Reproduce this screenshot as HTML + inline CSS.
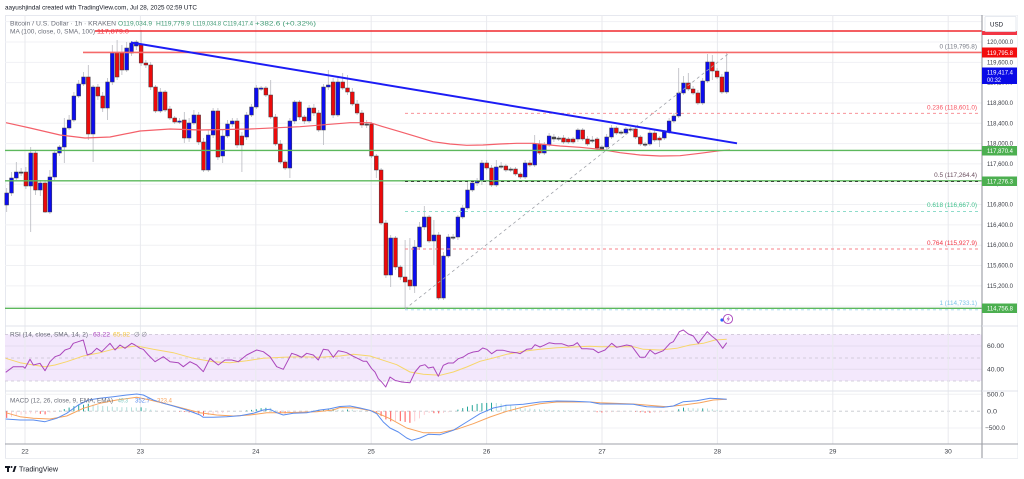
<!DOCTYPE html>
<html><head><meta charset="utf-8"><style>
html,body{margin:0;padding:0;background:#fff;width:1024px;height:479px;overflow:hidden}
svg{display:block;font-family:"Liberation Sans",Arial,sans-serif}
</style></head><body>
<svg id="s" width="1024" height="479" viewBox="0 0 1024 479" xmlns="http://www.w3.org/2000/svg">
<rect width="1024" height="479" fill="#fff"/>
<g id="bg"></g>
<g id="cd"></g>
<g id="ov"></g>
<g id="ax"></g>
<!-- header texts -->
<text x="5" y="9.6" font-size="6.8" fill="#131722" textLength="192" lengthAdjust="spacingAndGlyphs">aayushjindal created with TradingView.com, Jul 28, 2025 02:59 UTC</text>
<text x="10" y="25.6" font-size="6.4" fill="#6a6d78" textLength="106" lengthAdjust="spacingAndGlyphs">Bitcoin / U.S. Dollar · 1h · KRAKEN</text>
<text x="118" y="25.6" font-size="6.4" fill="#3f9a73" textLength="34" lengthAdjust="spacingAndGlyphs">O119,034.9</text>
<text x="156" y="25.6" font-size="6.4" fill="#3f9a73" textLength="34" lengthAdjust="spacingAndGlyphs">H119,779.9</text>
<text x="193" y="25.6" font-size="6.4" fill="#3f9a73" textLength="28" lengthAdjust="spacingAndGlyphs">L119,034.8</text>
<text x="223" y="25.6" font-size="6.4" fill="#3f9a73" textLength="30" lengthAdjust="spacingAndGlyphs">C119,417.4</text>
<text x="255" y="25.6" font-size="6.4" fill="#3f9a73" textLength="61" lengthAdjust="spacingAndGlyphs">+382.6 (+0.32%)</text>
<text x="10" y="33.6" font-size="6.4" fill="#6a6d78" textLength="85" lengthAdjust="spacingAndGlyphs">MA (100, close, 0, SMA, 100)</text>
<text x="97" y="33.6" font-size="6.4" fill="#f23645" textLength="32" lengthAdjust="spacingAndGlyphs">117,879.0</text>
<!-- fib labels -->
<g font-size="6.4" text-anchor="end">
<text x="977" y="48.3" fill="#787b86">0 (119,795.8)</text>
<text x="977" y="109.3" fill="#f7525f">0.236 (118,601.0)</text>
<text x="977" y="177" fill="#6b4e5e">0.5 (117,264.4)</text>
<text x="977" y="207" fill="#3fc08c">0.618 (116,667.0)</text>
<text x="977" y="245" fill="#f23645">0.764 (115,927.9)</text>
<text x="977" y="305" fill="#7cc4e8">1 (114,733.1)</text>
</g>
<!-- indicator legends -->
<text x="10" y="336.6" font-size="6.4" fill="#6a6d78" textLength="78" lengthAdjust="spacingAndGlyphs">RSI (14, close, SMA, 14, 2)</text>
<text x="93" y="336.6" font-size="6.4" fill="#ab47bc" textLength="17" lengthAdjust="spacingAndGlyphs">63.22</text>
<text x="113" y="336.6" font-size="6.4" fill="#f5c842" textLength="17" lengthAdjust="spacingAndGlyphs">65.82</text>
<text x="134" y="336.6" font-size="6.4" fill="#787b86">∅ ∅</text>
<text x="10" y="402.3" font-size="6.4" fill="#6a6d78" textLength="103" lengthAdjust="spacingAndGlyphs">MACD (12, 26, close, 9, EMA, EMA)</text>
<text x="118" y="402.3" font-size="6.4" fill="#80cbc4" textLength="10" lengthAdjust="spacingAndGlyphs">49.3</text>
<text x="135" y="402.3" font-size="6.4" fill="#5b8def" textLength="15" lengthAdjust="spacingAndGlyphs">352.7</text>
<text x="157" y="402.3" font-size="6.4" fill="#f7a35c" textLength="15" lengthAdjust="spacingAndGlyphs">323.4</text>
<!-- price axis labels -->
<g font-size="6.2" fill="#3a3d45">
<text x="987" y="44" textLength="26" lengthAdjust="spacingAndGlyphs">120,000.0</text>
<text x="987" y="64.3" textLength="26" lengthAdjust="spacingAndGlyphs">119,600.0</text>
<text x="987" y="84.6" textLength="26" lengthAdjust="spacingAndGlyphs">119,200.0</text>
<text x="987" y="105" textLength="26" lengthAdjust="spacingAndGlyphs">118,800.0</text>
<text x="987" y="125.3" textLength="26" lengthAdjust="spacingAndGlyphs">118,400.0</text>
<text x="987" y="145.6" textLength="26" lengthAdjust="spacingAndGlyphs">118,000.0</text>
<text x="987" y="166" textLength="26" lengthAdjust="spacingAndGlyphs">117,600.0</text>
<text x="987" y="186.2" textLength="26" lengthAdjust="spacingAndGlyphs">117,200.0</text>
<text x="987" y="206.6" textLength="26" lengthAdjust="spacingAndGlyphs">116,800.0</text>
<text x="987" y="226.9" textLength="26" lengthAdjust="spacingAndGlyphs">116,400.0</text>
<text x="987" y="247.2" textLength="26" lengthAdjust="spacingAndGlyphs">116,000.0</text>
<text x="987" y="267.5" textLength="26" lengthAdjust="spacingAndGlyphs">115,600.0</text>
<text x="987" y="287.8" textLength="26" lengthAdjust="spacingAndGlyphs">115,200.0</text>
<text x="987" y="308" textLength="26" lengthAdjust="spacingAndGlyphs">114,800.0</text>
<text x="987" y="348.2" textLength="17" lengthAdjust="spacingAndGlyphs">60.00</text>
<text x="987" y="371.4" textLength="17" lengthAdjust="spacingAndGlyphs">40.00</text>
<text x="987" y="396.3" textLength="17" lengthAdjust="spacingAndGlyphs">500.0</text>
<text x="987" y="413.3" textLength="10" lengthAdjust="spacingAndGlyphs">0.0</text>
<text x="985" y="430.2" textLength="20" lengthAdjust="spacingAndGlyphs">−500.0</text>
</g>
<!-- colored price labels -->
<rect x="982" y="31" width="35" height="4" fill="#f23645"/>
<rect x="985" y="16.5" width="31" height="15" fill="#fff" stroke="#e0e3eb" stroke-width="0.8" rx="1"/>
<text x="990" y="26.5" font-size="6.2" fill="#131722">USD</text>
<rect x="982" y="47.5" width="35" height="10" fill="#f20d0d"/>
<text x="987" y="54.8" font-size="6.2" fill="#fff" textLength="26" lengthAdjust="spacingAndGlyphs">119,795.8</text>
<rect x="982" y="67.5" width="35" height="16.5" fill="#0a0ae6"/>
<text x="987" y="74.4" font-size="6.2" fill="#fff" textLength="26" lengthAdjust="spacingAndGlyphs">119,417.4</text>
<text x="987" y="81.8" font-size="6.2" fill="#fff" textLength="14" lengthAdjust="spacingAndGlyphs">00:32</text>
<rect x="982" y="146" width="35" height="9.5" fill="#4caf50"/>
<text x="987" y="153" font-size="6.2" fill="#fff" textLength="26" lengthAdjust="spacingAndGlyphs">117,870.4</text>
<rect x="982" y="176.5" width="35" height="9.5" fill="#4caf50"/>
<text x="987" y="183.5" font-size="6.2" fill="#fff" textLength="26" lengthAdjust="spacingAndGlyphs">117,276.3</text>
<rect x="982" y="303.5" width="35" height="9.5" fill="#4caf50"/>
<text x="987" y="310.5" font-size="6.2" fill="#fff" textLength="26" lengthAdjust="spacingAndGlyphs">114,756.8</text>
<!-- time axis -->
<g font-size="6.6" fill="#3a3d45" text-anchor="middle">
<text x="25" y="453.3">22</text>
<text x="140.4" y="453.3">23</text>
<text x="255.8" y="453.3">24</text>
<text x="371.2" y="453.3">25</text>
<text x="486.6" y="453.3">26</text>
<text x="602" y="453.3">27</text>
<text x="717.4" y="453.3">28</text>
<text x="832.8" y="453.3">29</text>
<text x="948.2" y="453.3">30</text>
</g>
<!-- lightning icon -->
<circle cx="722" cy="320" r="1.6" fill="#2962ff"/>
<circle cx="728" cy="319" r="4.6" fill="#fff" stroke="#ab47bc" stroke-width="0.9"/>
<path d="M729.2,315.8 L726.6,319.4 L728.4,319.4 L727,322.4 L730,318.5 L728.2,318.5 Z" fill="#ab47bc"/>
<!-- TradingView logo -->
<g fill="#131722">
<rect x="5" y="466" width="5" height="2"/>
<rect x="7" y="466" width="2" height="6"/>
<circle cx="11.5" cy="467" r="1"/>
<path d="M12.5,472 L14.5,466 L16.5,466 L14.5,472 Z"/>
</g>
<text x="19" y="471.5" font-size="7" fill="#131722" textLength="39" lengthAdjust="spacingAndGlyphs">TradingView</text>
</svg>
<script>
(function(){
var NS="http://www.w3.org/2000/svg";
function el(parent,tag,attrs){var e=document.createElementNS(NS,tag);for(var k in attrs)e.setAttribute(k,attrs[k]);parent.appendChild(e);return e;}
var bg=document.getElementById('bg'),cd=document.getElementById('cd'),ov=document.getElementById('ov'),ax=document.getElementById('ax');
function py(p){return 42+(120000-p)*0.0508;}
// outer frame
el(bg,'rect',{x:5.5,y:15.5,width:1012,height:443,fill:'none',stroke:'#e0e3eb','stroke-width':0.8});
// horizontal grid main
for(var p=120400;p>=114800;p-=400){var y=py(p);el(bg,'line',{x1:5,x2:982,y1:y,y2:y,stroke:'#f0f1f4','stroke-width':1});}
// RSI band
el(bg,'rect',{x:5,y:334.4,width:977,height:46.6,fill:'#f3e8fc'});
[346,369.3].forEach(function(y){el(bg,'line',{x1:5,x2:982,y1:y,y2:y,stroke:'#e6dcef','stroke-width':1});});
[334.4,358,381].forEach(function(y){el(bg,'line',{x1:5,x2:982,y1:y,y2:y,stroke:'#c9c2d2','stroke-width':0.8,'stroke-dasharray':'3,3'});});
// MACD grid
[394.3,428].forEach(function(y){el(bg,'line',{x1:5,x2:982,y1:y,y2:y,stroke:'#f0f1f4','stroke-width':1});});
el(bg,'line',{x1:5,x2:982,y1:411.2,y2:411.2,stroke:'#c4c6cc','stroke-width':0.8,'stroke-dasharray':'3,3'});
// vertical day grid
for(var k=0;k<9;k++){var x=25+k*115.4;el(bg,'line',{x1:x,x2:x,y1:15,y2:444,stroke:'#e9eaee','stroke-width':1});}
// pane separators
el(bg,'line',{x1:5,x2:1018,y1:326,y2:326,stroke:'#e0e3eb','stroke-width':1});
el(bg,'line',{x1:5,x2:1018,y1:391,y2:391,stroke:'#e0e3eb','stroke-width':1});

// candles
var D="B 193 205 188 212|B 178 193 172 196|B 172 178 162 180|D 172 173 168 176|R 172 186 167 189|B 153 186 147 232|R 153 190 150 195|B 183 190 180 196|R 183 212 180 213|B 177 212 170 214|B 153 177 150 180|B 147 153 145 156|B 128 147 118 163|B 120 128 115 130|B 96 120 92 122|B 84 96 80 98|B 77 84 72 86|R 77 134 65 140|B 87 134 85 162|R 87 96 84 100|R 96 108 92 112|B 82 108 78 120|B 53 82 45 85|R 53 77 40 80|R 53 70 45 75|B 48 70 42 72|B 43 53 41 56|B 42 46 40 50|R 45 63 30 66|R 63 65 60 68|R 65 87 62 90|R 87 111 85 113|B 92 111 88 113|R 92 110 90 112|R 109 118 106 120|R 118 122 116 124|B 121 122 118 124|R 120 138 112 143|B 123 138 118 142|B 115 123 110 125|R 115 142 112 145|R 142 170 138 172|B 135 170 130 172|B 111 135 108 138|R 111 157 108 160|B 136 156 130 163|B 124 136 120 138|B 121 124 118 127|R 121 145 118 148|R 136 145 132 172|B 115 137 112 140|B 107 115 104 117|B 88 107 85 109|B 88 89 86 91|R 88 95 86 97|R 95 117 80 119|R 117 144 114 146|R 144 162 140 164|R 162 168 160 170|B 121 168 118 178|B 102 121 100 124|R 102 117 100 120|R 117 121 115 124|B 108 121 105 123|R 108 113 104 116|R 113 130 110 132|B 87 130 84 145|B 85 87 70 90|R 82 115 78 118|B 82 115 78 117|R 82 88 73 90|R 88 92 75 95|R 92 104 88 106|R 104 113 100 115|R 113 125 110 128|D 124 125 120 128|R 124 156 122 158|R 156 170 154 178|R 170 223 168 225|R 223 275 220 278|B 238 275 235 287|R 238 267 236 270|R 267 277 265 280|R 277 282 240 309|R 280 286 238 290|B 247 286 240 293|B 227 247 222 250|B 217 227 206 230|R 217 241 215 243|B 235 241 220 265|R 235 298 232 300|B 256 298 252 300|B 237 256 234 258|D 237 238 234 240|B 217 237 215 240|B 208 217 205 219|B 190 208 180 210|B 183 190 180 192|B 181 183 178 186|B 163 181 160 185|R 163 168 160 170|R 168 185 165 187|B 167 185 160 187|D 166 167 162 169|R 166 170 164 172|D 169 170 167 172|R 169 174 167 176|R 174 177 172 179|B 163 177 160 179|R 163 165 160 167|B 144 165 135 167|R 144 153 140 155|B 145 153 142 155|B 136 145 133 147|D 137 139 134 142|D 138 139 136 141|R 138 142 135 144|R 139 142 137 144|R 139 142 137 144|B 130 139 128 142|R 130 139 128 141|R 139 144 136 146|D 140 141 136 143|R 139 148 137 150|D 147 149 145 151|B 137 147 134 150|B 128 137 125 139|R 128 133 126 135|D 132 133 130 135|B 129 133 127 135|D 129 130 127 132|R 129 137 127 139|R 137 144 135 146|D 144 145 142 147|B 133 144 130 146|R 133 140 130 142|R 138 140 136 147|B 132 138 130 140|B 121 132 118 134|B 116 121 113 123|B 93 116 68 118|B 83 93 76 95|R 83 89 73 91|R 89 93 86 95|R 93 103 90 105|B 81 103 78 105|B 62 81 54 83|R 62 71 55 80|R 71 77 68 79|R 77 92 74 94|B 72 92 53 94".split('|');
D.forEach(function(s,i){
  var a=s.split(' '),t=a[0],top=+a[1],bot=+a[2],wt=+a[3],wb=+a[4];
  var x=6.7+i*4.8;
  el(cd,'line',{x1:x,x2:x,y1:wt,y2:wb,stroke:'#b8bac0','stroke-width':0.8});
  var h=Math.max(1.2,bot-top);
  var f=t==='B'?'#0c0cef':(t==='R'?'#ec0a0a':'#4a4a4a');
  el(cd,'rect',{x:x-1.9,y:top,width:3.8,height:h,fill:f,stroke:'#3c3c46','stroke-width':0.5});
});
function pts(s){return s.trim().split(/\s+/).map(function(q){var v=q.split(',');return [+v[0],+v[1]];});}
function pl(g,arr,col,w,extra){var a={points:arr.map(function(p){return p[0]+','+p[1];}).join(' '),fill:'none',stroke:col,'stroke-width':w,'stroke-linejoin':'round'};for(var k in extra)a[k]=extra[k];return el(g,'polyline',a);}
// MA
var MA=pts("6,122.7 30,128 60,135 85,138 110,137 140,131 170,129 200,130 250,129 300,126.7 350,122.7 370,122.7 383,126.7 400,131.7 416.7,136.7 433,141.7 450,144 466.7,145.3 483,145 500,144 516.7,143.3 533,143.3 545,144.5 560,146 580,147.3 600,149.3 620,152.7 640,155 660,156 680,155.7 700,153.3 720,150.7 730,150");
pl(ov,MA,'#f4606a',1.2,{});
// horizontal lines
el(ov,'line',{x1:95,x2:982,y1:31,y2:31,stroke:'#f0282d','stroke-width':1.6});
el(ov,'line',{x1:83,x2:982,y1:52.4,y2:52.4,stroke:'#f56a6a','stroke-width':1.6});
el(ov,'line',{x1:5,x2:982,y1:150.4,y2:150.4,stroke:'#5cb85c','stroke-width':1.4});
el(ov,'line',{x1:5,x2:982,y1:180.8,y2:180.8,stroke:'#5cb85c','stroke-width':1.4});
el(ov,'line',{x1:5,x2:982,y1:308.3,y2:308.3,stroke:'#5cb85c','stroke-width':1.4});
// fib levels
[[113.3,'#f7828a'],[181.6,'#333'],[211.4,'#7fd8c2'],[249,'#f7828a'],[309.8,'#9fd6ee']].forEach(function(f){
  el(ov,'line',{x1:405,x2:978,y1:f[0],y2:f[0],stroke:f[1],'stroke-width':0.9,'stroke-dasharray':'3,3'});
});
el(ov,'line',{x1:405,x2:730,y1:309,y2:52.5,stroke:'#a0a3aa','stroke-width':0.8,'stroke-dasharray':'3,3'});
// trendline
el(ov,'line',{x1:131,x2:737,y1:42.5,y2:143.3,stroke:'#1c1cf5','stroke-width':2});

// RSI
var RSI=pts("5.7,372.3 13.3,366.7 23.3,366.7 25,368.3 30,359.3 33.3,365 40,363.3 45,370.7 50,361.7 55,356.7 60,355 65,350 70,348.3 73.3,343.3 78.3,341.7 83.3,340 87.3,355 91.7,353.3 96.7,348.3 101.7,351.7 110,343.3 115,350 120,345 125,348.3 131.7,343.3 135,345 140,348.3 143.3,349.3 148.3,355 155,361.7 163.3,356.7 170,361.7 178.3,362.7 183.3,366.7 190,361.7 196.7,365 203.3,371.7 210,358.3 218.3,365 225,360 231.7,360 238.3,361.7 246.7,355 256.7,350 263.3,351.7 270,356.7 276.7,366.7 283.3,369.3 291.7,353.3 296.7,355 301.7,357.3 306.7,353.3 313.3,355 318.3,360 323.3,349.3 328.3,350 333.3,357.3 338.3,350.7 343.3,351.7 346.7,352.7 353.3,356.3 358.3,358.7 363.3,361.3 366.7,361.3 371.7,368.7 375,372 378.3,378.7 381.7,382 385.7,387 390,377 395,380.3 401.7,382 410,382.7 415,372 420,366 425,364.7 428.3,368 433.3,367 438.3,376.3 443.3,365.3 448.3,363 453.3,363 458.3,358.7 463.3,357 468.3,353.7 473.3,352 478.3,351.3 482.7,348 486.7,349.3 491.7,353.7 496.7,350.3 503.3,350.3 510,352 516.7,352.7 520,353.7 526.7,349.3 531.7,348.7 535,344.7 540,347 544,345.3 549.3,342.7 555,343.7 561.7,343.7 568.3,346 573.3,345.3 577.3,342.7 581.7,348.7 586.7,348.7 593.3,349.3 598.3,352.7 605,350 611.7,343.3 616.7,347.3 626.7,345 631.7,346 640,357.3 645,357.3 650,350 655,354 663.3,350.7 670,343.3 673.3,341.7 679.3,331.7 683.3,330 688.3,334 693.3,336 698.3,343.3 707.3,331.7 711.7,336 716.7,340 722.7,348.3 726.7,342.7");
var RSIY=pts("5.7,358.3 20,362.7 33.3,365 45,366.7 55,365 66.7,361.7 83.3,356 100,352.7 116.7,348.3 136.7,346 153.3,349.3 173.3,352.7 193.3,358.3 213.3,361.7 230,362.7 246.7,360.7 263.3,358.3 283.3,357.3 300,356.7 320,357.3 340,356 353.3,354.3 370,356 383.3,360.3 396.7,364.7 410,372 423.3,374.3 440,375.3 453.3,372 466.7,367 480,361.3 493.3,358 506.7,354.3 523.3,351.3 540,349.3 556.7,347.7 573.3,347 590,346.3 600,346.7 616.7,346.7 633.3,346.7 643.3,349.3 660,350 676.7,348.3 690,345 703.3,343.3 715,340 726.7,339.3");
pl(ov,RSIY,'#f7d66a',1,{});
pl(ov,RSI,'#ab47bc',1,{});
// MACD
var MB=pts("5.7,419 20,420 33.3,420 45,421.7 56.7,418.3 66.7,413.3 78.3,405 88.3,400 100,398.3 113.3,396.7 126.7,395 136.7,394 143.3,395 153.3,400 163.3,403.3 173.3,406 186.7,410 200,415 203.3,417.3 213.3,417.3 226.7,416.7 240,415.7 253.3,413.3 263.3,410 270,409.3 276.7,412.7 283.3,415 293.3,413.3 306.7,412.7 320,410 330,408.7 340,406.5 350,406 360,408 370,410.3 376.7,413.7 383.3,422 390,428 398.3,432 406.7,438 411.7,440.3 420,438 428.3,434.3 440,434.7 453.3,430.3 466.7,422 480,413.7 493.3,408 506.7,405.3 523.3,404.3 540,402 556.7,401 573.3,401.3 590,402 600,404 616.7,404 633.3,404.3 646.7,406.7 663.3,407.3 673.3,406 683.3,401.7 696.7,400.7 710,398.3 720,398.7 726.7,399.3");
var MO=pts("5.7,412.7 20,416.7 33.3,418.3 50,419 66.7,416 83.3,408.3 100,403.3 116.7,400 136.7,397.3 150,400 166.7,404 183.3,408.3 200,412.7 216.7,415 233.3,416 250,415 266.7,412.7 283.3,412.7 300,412.3 316.7,411.7 333.3,410 340,407.5 356.7,408 373.3,411.3 390,418.7 406.7,428 423.3,432.7 440,432.7 456.7,429.3 473.3,423.7 490,417 506.7,411.3 523.3,407 540,403.7 556.7,402 573.3,402 590,402 600,402.7 633.3,404 666.7,406.7 683.3,405 700,402.7 713.3,400 726.7,399.3");
function interp(a,x){if(x<=a[0][0])return a[0][1];for(var i=1;i<a.length;i++){if(x<=a[i][0]){var t=(x-a[i-1][0])/(a[i][0]-a[i-1][0]);return a[i-1][1]+t*(a[i][1]-a[i-1][1]);}}return a[a.length-1][1];}
var prev=0;
for(var i=0;i<151;i++){
  var x=6.7+i*4.8;var h=(interp(MO,x)-interp(MB,x))*1.1;
  var col;
  if(h>=0)col=(h>=prev)?'#26a69a':'#b2dfdb';else col=(h<=prev)?'#ff5252':'#ffcdd2';
  prev=h;
  var y1=411.2,y2=411.2-h;
  if(Math.abs(h)<0.4)continue;
  el(ov,'line',{x1:x,x2:x,y1:Math.min(y1,y2),y2:Math.max(y1,y2),stroke:col,'stroke-width':1});
}
pl(ov,MO,'#f7a35c',1,{});
pl(ov,MB,'#5b8def',1,{});
// axis area cover + lines
el(ax,'rect',{x:982.5,y:15.5,width:35,height:443,fill:'#fff'});
el(ax,'line',{x1:982,x2:982,y1:15,y2:459,stroke:'#8f9299','stroke-width':1});
el(ax,'line',{x1:5,x2:1018,y1:444,y2:444,stroke:'#9fa2a8','stroke-width':1});
el(ax,'line',{x1:982,x2:1018,y1:326,y2:326,stroke:'#e0e3eb','stroke-width':1});
el(ax,'line',{x1:982,x2:1018,y1:391,y2:391,stroke:'#e0e3eb','stroke-width':1});
el(ax,'line',{x1:5,x2:1018,y1:458.5,y2:458.5,stroke:'#eceef2','stroke-width':1});
})();
</script>
</body></html>
